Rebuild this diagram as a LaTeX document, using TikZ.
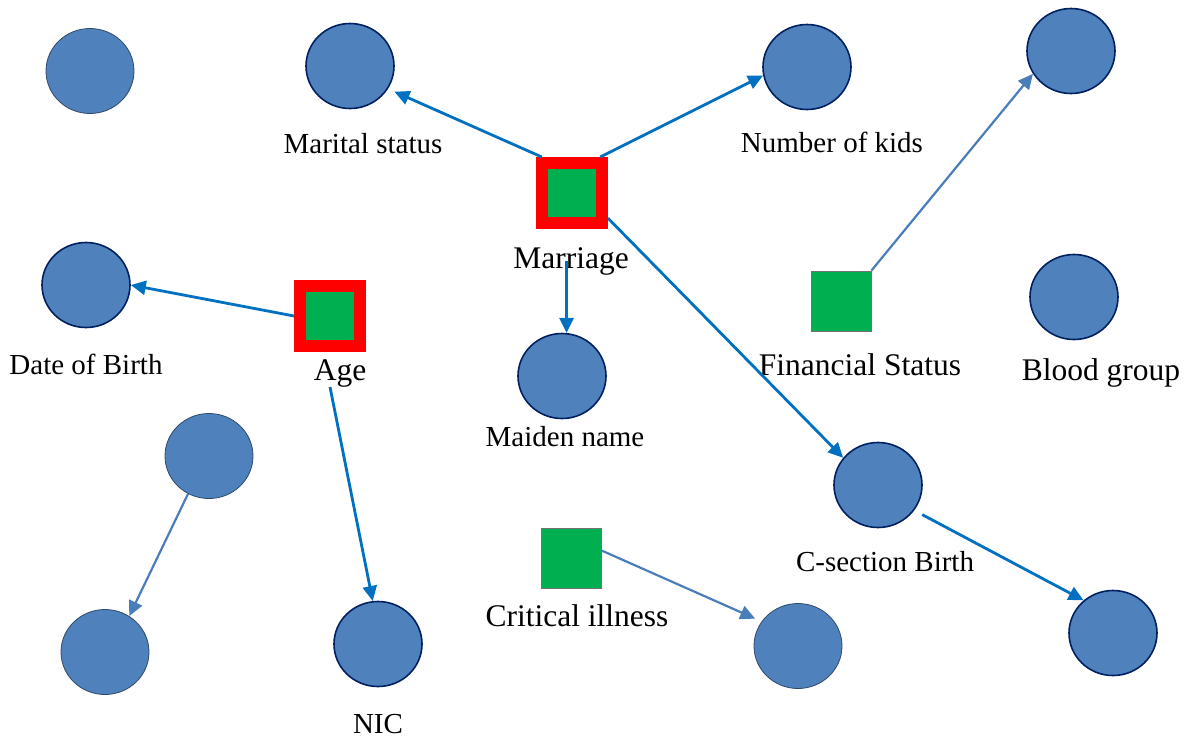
\documentclass[tikz,border=0pt]{standalone}
\usepackage{fontspec}
\setmainfont{Liberation Serif}
\usetikzlibrary{shapes.geometric,arrows.meta}
\definecolor{dotblue}{HTML}{4F81BD}
\definecolor{navy}{HTML}{002060}
\definecolor{slate}{HTML}{2F4A6A}
\definecolor{keygreen}{HTML}{00B050}
\definecolor{linkblue}{HTML}{0070C0}
\definecolor{linklight}{HTML}{4A7EBB}

\begin{document}
\begin{tikzpicture}[x=1pt,y=-1pt,
    circ/.style={ellipse,fill=dotblue,draw=navy,line width=1.6pt,minimum width=88pt,minimum height=85pt,inner sep=0pt},
    circthin/.style={circ,draw=slate,line width=0.8pt},
    sq/.style={rectangle,fill=keygreen,draw=black!55,line width=0.8pt,minimum size=60pt,inner sep=0pt},
    sqred/.style={sq,draw=red,line width=12pt},
    lab/.style={anchor=base,inner sep=0pt,font=\fontsize{29}{30}\selectfont},
    labbig/.style={lab,font=\fontsize{31.5}{33}\selectfont},
    arr/.style={draw=linkblue,line width=2.8pt,-{Triangle[length=15pt,width=14pt]}},
    arrlt/.style={arr,draw=linklight,line width=2.2pt}]
  \useasboundingbox (0,0) rectangle (1189,737);

  % attributes
  \node[circthin] (anon1) at (90,71) {};
  \node[circ] (marital) at (350,66) {};
  \node[circ] (kids) at (807,67) {};
  \node[circ] (topright) at (1071,51) {};
  \node[circ] (dob) at (86,285) {};
  \node[circ] (blood) at (1074,297) {};
  \node[circ] (maiden) at (562,376) {};
  \node[circthin] (anon2) at (209,456) {};
  \node[circ] (csec) at (878,485) {};
  \node[circthin] (anon3) at (105,652) {};
  \node[circ] (nic) at (378,644) {};
  \node[circthin] (illtarget) at (798,646) {};
  \node[circ] (anon4) at (1113,633) {};

  % keys
  \node[sqred] (marriage) at (572,193) {};
  \node[sqred] (age) at (330,316) {};
  \node[sq] (finance) at (841,301) {};
  \node[sq] (illness) at (571,558) {};

  % labels
  \node[lab] (maritallbl) at (363,153) {Marital status};
  \node[lab] (kidslbl) at (832,152) {Number of kids};
  \node[labbig] (marriagelbl) at (571,268) {Marriage};
  \node[lab] (doblbl) at (86,374) {Date of Birth};
  \node[labbig] (agelbl) at (340,380) {Age};
  \node[labbig] (financelbl) at (860,375) {Financial Status};
  \node[labbig] (bloodlbl) at (1101,380) {Blood group};
  \node[lab] (maidenlbl) at (565,446) {Maiden name};
  \node[lab] (cseclbl) at (885,571) {C-section Birth};
  \node[labbig] (illnesslbl) at (577,626) {Critical illness};
  \node[lab] (niclbl) at (378,733) {NIC};

  % links
  \draw[arr,shorten >=7pt] (marriage.130) -- (marital.-31);
  \draw[arr] (marriage.52) -- (kids.191);
  \draw[arr] (marriagelbl.center -| maiden.84) -- (maiden.84);
  \draw[arr] (marriage.-35) -- (csec.142);
  \draw[arr] (age.west) -- (dob.east);
  \draw[arr] (age.south |- agelbl.south) -- (nic.97);
  \draw[arrlt] (finance.north east) -- (topright.211);
  \draw[arrlt] (anon2.241) -- (anon3.56);
  \draw[arrlt,shorten >=7pt] (illness.14) -- (illtarget.146);
  \draw[arr,shorten <=9pt] (csec.-35) -- (anon4.132);
\end{tikzpicture}
\end{document}
